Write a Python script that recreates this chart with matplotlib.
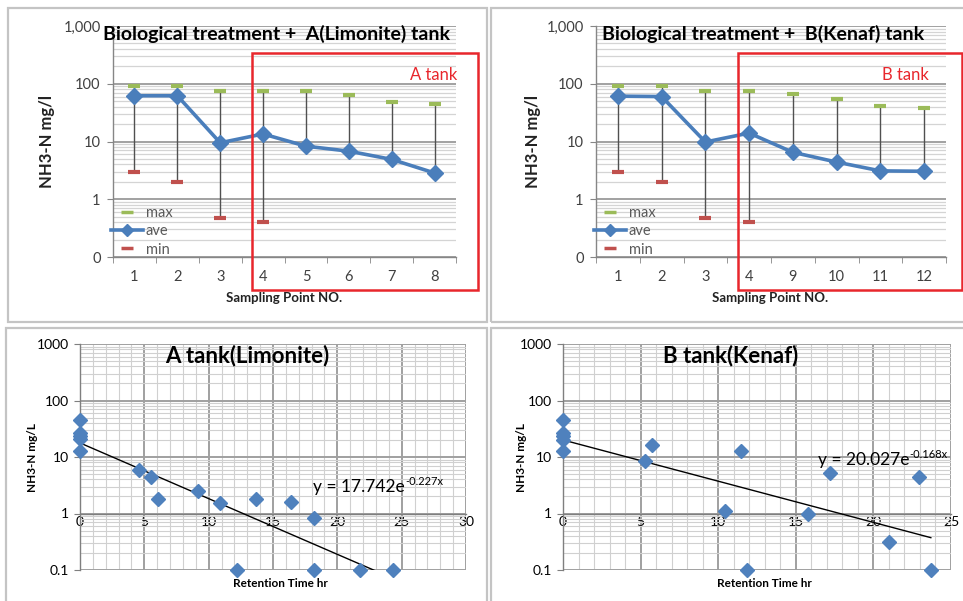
import numpy as np
import matplotlib
matplotlib.use("Agg")
import matplotlib.pyplot as plt
from matplotlib.patches import Rectangle
from matplotlib.lines import Line2D
from matplotlib.ticker import FixedLocator, NullFormatter, FixedFormatter, MultipleLocator

plt.rcParams['font.family'] = ['Lato', 'DejaVu Sans']

# ---- Sampling-point summary of NH3-N (mg/l) ----
points_a = ["1", "2", "3", "4", "5", "6", "7", "8"]
max_a = [92, 92, 76, 76, 76, 64, 49, 44]
ave_a = [62, 62, 9.5, 13.5, 8.3, 6.8, 4.9, 2.85]
min_a = [3.0, 2.0, 0.48, 0.40, 0, 0, 0, 0]

points_b = ["1", "2", "3", "4", "9", "10", "11", "12"]
max_b = [92, 92, 76, 74, 66, 54, 42, 38]
ave_b = [61, 60, 9.8, 14, 6.5, 4.4, 3.1, 3.05]
min_b = [3.0, 2.0, 0.48, 0.40, 0, 0, 0, 0]

# ---- NH3-N against retention time ----
time_a = [0, 0, 0, 0, 0, 4.6, 5.5, 6.1, 9.15, 10.9, 12.2, 13.7, 16.4, 18.2, 18.2, 21.75, 24.3]
nh3_a = [46, 27, 23.5, 20.5, 12.8, 6.0, 4.4, 1.8, 2.5, 1.55, 0.1, 1.8, 1.6, 0.83, 0.1, 0.1, 0.1]
fit_a = (17.742, -0.227)

time_b = [0, 0, 0, 0, 0, 5.3, 5.73, 10.47, 11.48, 11.85, 15.77, 17.2, 21.0, 22.94, 23.7]
nh3_b = [46, 27, 23.5, 20, 12.7, 8.5, 16.3, 1.13, 12.8, 0.1, 1.0, 5.15, 0.31, 4.5, 0.1]
fit_b = (20.027, -0.168)

BLUE = '#4A7EBB'
GREEN = '#9BBB59'
RED = '#C0504D'
BOX_RED = '#E8262C'
GRID_MAJOR = '#9a9a9a'
GRID_MINOR = '#d4d4d4'
AXIS_GRAY = '#868686'
TICK_TXT = '#404040'

W, H = 963, 601
fig = plt.figure(figsize=(W / 100, H / 100), dpi=100)


def px_axes(x0, y0, x1, y1):
    """Axes from pixel corners (top-left origin)."""
    return fig.add_axes([x0 / W, 1 - y1 / H, (x1 - x0) / W, (y1 - y0) / H])


def px_rect(x0, y0, x1, y1, **kw):
    r = Rectangle((x0 / W, 1 - y1 / H), (x1 - x0) / W, (y1 - y0) / H,
                  transform=fig.transFigure, fill=False, **kw)
    fig.add_artist(r)
    return r


# panel frames
for (x0, y0, x1, y1) in [(8, 8, 487, 322), (491, 8, 975, 322),
                         (6, 328, 487, 612), (491, 328, 975, 612)]:
    px_rect(x0, y0, x1, y1, edgecolor='#c4c4c4', linewidth=1.6, zorder=0)

log_minor = [m * 10.0 ** e for e in range(-1, 3) for m in range(2, 10)]


def summary_panel(ax, labels, vmax, vave, vmin, title):
    n = len(labels)
    xs = np.arange(1, n + 1)
    ax.set_yscale('log')
    ax.set_ylim(0.1, 1000)
    ax.set_xlim(0.5, n + 0.5)
    for s in ['top', 'right']:
        ax.spines[s].set_visible(False)
    for s in ['left', 'bottom']:
        ax.spines[s].set_color(AXIS_GRAY)
        ax.spines[s].set_linewidth(1.0)
    ax.yaxis.set_major_locator(FixedLocator([0.1, 1, 10, 100, 1000]))
    ax.yaxis.set_major_formatter(FixedFormatter(["0", "1", "10", "100", "1,000"]))
    ax.yaxis.set_minor_locator(FixedLocator(log_minor))
    ax.yaxis.set_minor_formatter(NullFormatter())
    ax.tick_params(axis='y', which='major', length=4, color=AXIS_GRAY,
                   labelsize=10.5, labelcolor=TICK_TXT, pad=5)
    ax.tick_params(axis='y', which='minor', length=0)
    ax.xaxis.set_major_locator(FixedLocator(xs))
    ax.xaxis.set_major_formatter(FixedFormatter(labels))
    ax.xaxis.set_minor_locator(FixedLocator(np.arange(0.5, n + 1.0, 1.0)))
    ax.tick_params(axis='x', which='major', length=0, labelsize=10.5,
                   labelcolor=TICK_TXT, pad=9)
    ax.tick_params(axis='x', which='minor', length=4, color=AXIS_GRAY)
    ax.grid(False, axis='x', which='both')
    ax.grid(True, axis='y', which='major', color=GRID_MAJOR, linewidth=1.3)
    ax.grid(True, axis='y', which='minor', color=GRID_MINOR, linewidth=0.9)
    ax.set_axisbelow(True)

    vmax = np.asarray(vmax, float)
    vave = np.asarray(vave, float)
    vmin = np.asarray(vmin, float)
    # high-low line down to the lowest value that can be shown on a log axis
    low = np.where(vmin > 0, vmin, vave)
    ax.vlines(xs, low, vmax, color='#505050', linewidth=1.0, zorder=2)
    ax.plot(xs, vmax, linestyle='none', marker='_', markersize=8.5,
            markeredgewidth=3, color=GREEN, zorder=3)
    ok = vmin > 0
    ax.plot(xs[ok], vmin[ok], linestyle='none', marker='_', markersize=8.5,
            markeredgewidth=3, color=RED, zorder=3)
    ax.plot(xs, vave, color=BLUE, linewidth=2.6, marker='D', markersize=8,
            zorder=4)

    ax.text(0.478, 0.965, title, transform=ax.transAxes, ha='center',
            va='center', fontsize=14, fontweight='bold', color='black')
    ax.text(0.4985, -0.177, "Sampling Point NO.", transform=ax.transAxes,
            ha='center', va='center', fontsize=9.5, fontweight='bold',
            color='#222222')

    handles = [
        Line2D([], [], linestyle='none', marker='_', markersize=8,
               markeredgewidth=2.5, color=GREEN),
        Line2D([], [], color=BLUE, linewidth=2.6, marker='D', markersize=6),
        Line2D([], [], linestyle='none', marker='_', markersize=8,
               markeredgewidth=2.5, color=RED),
    ]
    leg = ax.legend(handles, ["max", "ave", "min"], loc='center left',
                    bbox_to_anchor=(-0.005, 0.112), frameon=False,
                    fontsize=10.5, handlelength=2.2, handletextpad=0.15,
                    borderpad=0, borderaxespad=0, labelspacing=0.3)
    for t in leg.get_texts():
        t.set_color('#595959')
    return ax


ax1 = px_axes(113, 26, 456, 257)
summary_panel(ax1, points_a, max_a, ave_a, min_a,
              "Biological treatment +  A(Limonite) tank")
ax1.text(-0.192, 0.498, "NH3-N mg/l", transform=ax1.transAxes, rotation=90,
         ha='center', va='center', fontsize=12, fontweight='bold',
         color='#222222')

ax2 = px_axes(596, 26, 946, 257)
summary_panel(ax2, points_b, max_b, ave_b, min_b,
              "Biological treatment +  B(Kenaf) tank")
ax2.text(-0.18, 0.498, "NH3-N mg/l", transform=ax2.transAxes, rotation=90,
         ha='center', va='center', fontsize=12, fontweight='bold',
         color='#222222')

# tank boxes
px_rect(252, 53, 478, 290, edgecolor=BOX_RED, linewidth=1.8, zorder=10)
px_rect(738, 53, 962, 290, edgecolor=BOX_RED, linewidth=1.8, zorder=10)
fig.text(457 / W, 1 - 75 / H, "A tank", ha='right', va='center',
         fontsize=12, color=BOX_RED)
fig.text(929 / W, 1 - 75 / H, "B tank", ha='right', va='center',
         fontsize=12, color=BOX_RED)


def retention_panel(ax, t, c, fit, xmax, title, eq_pos):
    ax.set_yscale('log')
    ax.set_ylim(0.1, 1000)
    ax.set_xlim(0, xmax)
    ax.yaxis.set_major_locator(FixedLocator([0.1, 1, 10, 100, 1000]))
    ax.yaxis.set_major_formatter(FixedFormatter(["0.1", "1", "10", "100", "1000"]))
    ax.yaxis.set_minor_locator(FixedLocator(log_minor))
    ax.yaxis.set_minor_formatter(NullFormatter())
    ax.xaxis.set_major_locator(MultipleLocator(5))
    ax.xaxis.set_minor_locator(MultipleLocator(1))
    ax.spines['bottom'].set_position(('data', 1))
    for s in ['top', 'right']:
        ax.spines[s].set_visible(False)
    for s in ['left', 'bottom']:
        ax.spines[s].set_color('#7f7f7f')
        ax.spines[s].set_linewidth(1.0)
    ax.tick_params(axis='y', which='major', length=4, color='#7f7f7f',
                   labelsize=10, pad=4)
    ax.tick_params(axis='y', which='minor', length=0)
    ax.tick_params(axis='x', which='major', length=0, labelsize=10, pad=2)
    ax.tick_params(axis='x', which='minor', length=0)
    ax.grid(True, which='major', color='#a0a0a0', linewidth=1.4)
    ax.grid(True, which='minor', color='#d0d0d0', linewidth=0.8)
    ax.set_axisbelow(True)

    ax.plot(t, c, linestyle='none', marker='D', markersize=7,
            color='#4F81BD', zorder=4, clip_on=False)
    a, b = fit
    xf = np.linspace(0, max(t), 200)
    ax.plot(xf, a * np.exp(b * xf), color='black', linewidth=1.0, zorder=3)

    ax.text(0.433, 0.947, title, transform=ax.transAxes, ha='center',
            va='center', fontsize=16, fontweight='bold')
    base = ax.text(eq_pos[0], eq_pos[1], "y = %.3fe" % a,
                   transform=ax.transAxes, ha='left', va='center',
                   fontsize=12.5)
    ax.annotate("%.3fx" % b, xy=(1.0, 0.82), xycoords=base,
                ha='left', va='center', fontsize=8)
    ax.text(0.52, -0.06, "Retention Time hr", transform=ax.transAxes,
            ha='center', va='center', fontsize=8.5, fontweight='bold')


ax3 = px_axes(80, 344, 466, 570)
retention_panel(ax3, time_a, nh3_a, fit_a, 30, "A tank(Limonite)", (0.604, 0.368))
ax3.text(-0.124, 0.496, "NH3-N mg/L", transform=ax3.transAxes, rotation=90,
         ha='center', va='center', fontsize=8.5, fontweight='bold')

ax4 = px_axes(563, 344, 951, 570)
retention_panel(ax4, time_b, nh3_b, fit_b, 25, "B tank(Kenaf)", (0.657, 0.487))
ax4.text(-0.106, 0.496, "NH3-N mg/L", transform=ax4.transAxes, rotation=90,
         ha='center', va='center', fontsize=8.5, fontweight='bold')

fig.savefig("out.png", dpi=100)
